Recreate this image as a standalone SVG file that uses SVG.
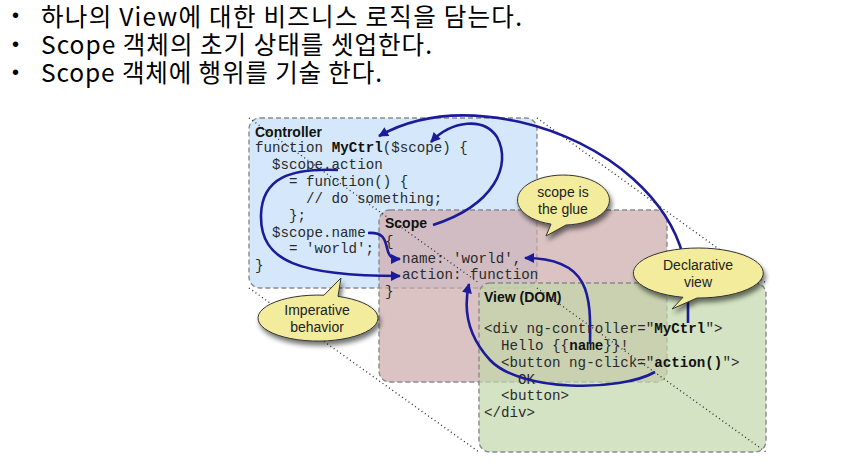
<svg xmlns="http://www.w3.org/2000/svg" width="854" height="472" viewBox="0 0 854 472">
<style>
.hd{font-family:"Noto Sans CJK KR","Noto Sans",sans-serif;font-size:24.5px;fill:#000}
.bl{font-family:"Liberation Sans",Arial,sans-serif;font-size:20px;fill:#000}
.ttl{font-family:"Liberation Sans",Arial,sans-serif;font-size:14px;font-weight:bold;fill:#111}
.code{font-family:"Liberation Mono","Courier New",monospace;font-size:14.2px;fill:#2a2a2a;white-space:pre}
.b{font-weight:bold;fill:#111}
.box{stroke:#8a8a8a;stroke-width:1.4;stroke-dasharray:5 3}
.dot{stroke:#333;stroke-width:1.4;stroke-dasharray:1 3;fill:none}
.arr{stroke:#1c1c9a;stroke-width:2.6;fill:none;marker-end:url(#ah)}
.bub{fill:#f2ec9c;stroke:#333;stroke-width:1;filter:url(#sh)}
.bt{font-family:"Liberation Sans",Arial,sans-serif;font-size:14px;fill:#222;text-anchor:middle}
</style>
<defs>
<marker id="ah" viewBox="0 0 10 10" refX="9" refY="5" markerWidth="11" markerHeight="10" markerUnits="userSpaceOnUse" orient="auto">
<path d="M0,0 L10,5 L0,10 Z" fill="#1c1c9a"/>
</marker>
<filter id="sh" x="-30%" y="-30%" width="160%" height="170%">
<feGaussianBlur in="SourceAlpha" stdDeviation="2.5"/>
<feOffset dx="2" dy="4" result="o"/>
<feComponentTransfer><feFuncA type="linear" slope="0.55"/></feComponentTransfer>
<feMerge><feMergeNode/><feMergeNode in="SourceGraphic"/></feMerge>
</filter>
</defs>

<g id="heading">
<text class="bl" x="12" y="22">•</text><text class="hd" x="41" y="26" textLength="481" lengthAdjust="spacing">하나의 View에 대한 비즈니스 로직을 담는다.</text>
<text class="bl" x="12" y="51">•</text><text class="hd" x="41" y="54" textLength="391" lengthAdjust="spacing">Scope 객체의 초기 상태를 셋업한다.</text>
<text class="bl" x="12" y="79">•</text><text class="hd" x="41" y="82" textLength="341" lengthAdjust="spacing">Scope 객체에 행위를 기술 한다.</text>
</g>

<g id="boxes">
<rect id="controller-box" class="box" x="249" y="118" width="288" height="170" rx="11" fill="#d5e8fb"/>
<rect id="scope-box" class="box" x="379" y="210" width="288" height="172" rx="11" fill="rgb(205,170,170)" fill-opacity="0.7"/>
<rect id="view-box" class="box" x="479" y="283" width="287" height="169" rx="11" fill="rgb(192,215,169)" fill-opacity="0.7"/>
</g>

<g id="perspective">
<line class="dot" x1="249" y1="118" x2="479" y2="283"/>
<line class="dot" x1="537" y1="118" x2="766" y2="283"/>
<line class="dot" x1="249" y1="288" x2="479" y2="452"/>
<line class="dot" x1="537" y1="288" x2="766" y2="452"/>
</g>

<g id="controller">
<text class="ttl" x="255" y="137">Controller</text>
<text class="code" x="255" y="152">function <tspan class="b">MyCtrl</tspan>($scope) {</text>
<text class="code" x="272" y="169">$scope.action</text>
<text class="code" x="289" y="186">= function() {</text>
<text class="code" x="306" y="203">// do something;</text>
<text class="code" x="289" y="220">};</text>
<text class="code" x="272" y="237">$scope.name</text>
<text class="code" x="289" y="253">= 'world';</text>
<text class="code" x="255" y="270">}</text>
</g>

<g id="scope">
<text class="ttl" x="385" y="228">Scope</text>
<text class="code" x="385" y="246">{</text>
<text class="code" x="402" y="263">name: 'world',</text>
<text class="code" x="402" y="279">action: function</text>
<text class="code" x="385" y="296">}</text>
</g>

<g id="view">
<text class="ttl" x="484" y="302">View (DOM)</text>
<text class="code" x="484" y="333">&lt;div ng-controller="<tspan class="b">MyCtrl</tspan>"&gt;</text>
<text class="code" x="501" y="350">Hello {{<tspan class="b">name</tspan>}}!</text>
<text class="code" x="501" y="367">&lt;button ng-click="<tspan class="b">action()</tspan>"&gt;</text>
<text class="code" x="518" y="384">OK</text>
<text class="code" x="501" y="400">&lt;button&gt;</text>
<text class="code" x="484" y="417">&lt;/div&gt;</text>
</g>

<g id="connectors">
<path class="arr" d="M688,323 L688,290 C686,200 600,140 520,122 C470,111 420,113 379,136"/>
<path class="arr" d="M433,225 C495,205 512,165 497,137 C484,117 452,120 431,142"/>
<path class="arr" d="M338,170 C290,168 262,178 261,215 C260,262 300,276 400,276"/>
<path class="arr" d="M368,233 C384,232 385,240 387,248 C389,257 392,259 400,259"/>
<path class="arr" d="M590,344 C591,295 590,258 525,258"/>
<path class="arr" d="M655,372 C620,392 520,392 490,360 C468,336 463,310 469,284"/>
</g>

<g id="bubble-glue">
<path class="bub" d="M566,225 L546,236 L551,224.1 A46,25 0 1 1 566,225 Z"/>
<text class="bt" x="563" y="197">scope is</text>
<text class="bt" x="563" y="214">the glue</text>
</g>

<g id="bubble-declarative">
<path class="bub" d="M697,298 L672,309 L683,297.3 A65,25 0 1 1 697,298 Z"/>
<text class="bt" x="698" y="270">Declarative</text>
<text class="bt" x="698" y="287">view</text>
</g>

<g id="bubble-imperative">
<path class="bub" d="M324,295.2 L341,278 L338,296.4 A60,23 0 1 1 324,295.2 Z"/>
<text class="bt" x="317" y="315">Imperative</text>
<text class="bt" x="317" y="332">behavior</text>
</g>
</svg>
